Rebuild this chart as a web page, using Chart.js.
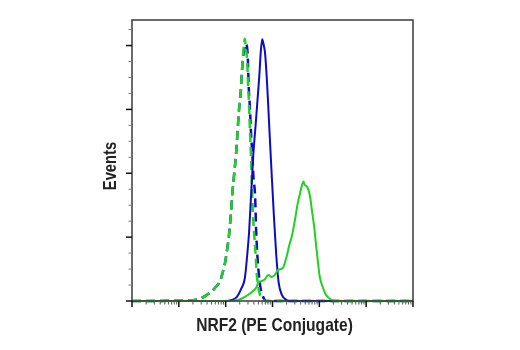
<!DOCTYPE html>
<html>
<head>
<meta charset="utf-8">
<script src="https://cdn.jsdelivr.net/npm/chart.js@4.4.0/dist/chart.umd.min.js"></script>
<style>
  html, body { margin: 0; padding: 0; background: #fff; }
</style>
</head>
<body>
<canvas id="chart" width="520" height="350"></canvas>
<script>
// --- DATA (x = log10 fluorescence, decades; y = events) ---
const xDecades = [0, 1, 2, 3, 4, 5, 6];
const yMajor = [0, 25, 50, 75, 100];
const yMinor = [6.25, 12.5, 18.75, 31.25, 37.5, 43.75, 56.25, 62.5, 68.75, 81.25, 87.5, 93.75, 106.25];

const isoBlueX = [0, 1.24, 1.39, 1.49, 1.60, 1.71, 1.77, 1.88, 1.94, 1.99, 2.03, 2.07, 2.11, 2.14, 2.18, 2.22, 2.25, 2.28, 2.32, 2.35, 2.38, 2.41, 2.43, 2.47, 2.49, 2.52, 2.54, 2.57, 2.59, 2.63, 2.65, 2.68, 2.71, 2.74, 2.78, 2.82, 2.86, 6];
const isoBlueY = [0, 0.2, 0.6, 1.2, 2.4, 3.9, 5.1, 7.8, 11.4, 15.3, 20.0, 25.5, 33.7, 41.6, 49.4, 57.2, 65.1, 73.7, 81.5, 90.6, 96.5, 99.8, 100.7, 96.4, 84.7, 74.9, 66.2, 57.2, 49.4, 40.4, 27.8, 16.9, 10.2, 5.5, 2.7, 0.8, 0, 0];

const isoGreenX = [0, 1.24, 1.39, 1.49, 1.60, 1.71, 1.77, 1.88, 1.94, 1.99, 2.03, 2.07, 2.11, 2.14, 2.18, 2.22, 2.25, 2.28, 2.32, 2.35, 2.38, 2.41, 2.43, 2.46, 2.48, 2.50, 2.52, 2.54, 2.56, 2.58, 2.61, 2.64, 2.66, 2.69, 2.73, 2.78, 2.84, 6];
const isoGreenY = [0, 0.2, 0.6, 1.2, 2.4, 3.9, 5.1, 7.8, 11.4, 15.3, 20.0, 25.5, 33.7, 41.6, 49.4, 57.2, 65.1, 73.7, 81.5, 90.6, 98.4, 102.7, 99.2, 93.7, 84.3, 76.4, 65.9, 57.2, 45.5, 34.9, 25.9, 18.0, 11.4, 6.3, 2.7, 0.8, 0, 0];

const ctrlBlueX = [0, 1.99, 2.13, 2.24, 2.34, 2.41, 2.46, 2.50, 2.53, 2.57, 2.59, 2.64, 2.68, 2.72, 2.75, 2.78, 2.81, 2.84, 2.88, 2.91, 2.95, 2.99, 3.03, 3.08, 3.13, 3.20, 3.30, 3.37, 6];
const ctrlBlueY = [0, 0, 0.4, 1.6, 5.1, 9.0, 18.0, 27.0, 37.2, 50.6, 57.2, 69.0, 78.8, 88.6, 97.6, 102.5, 100.4, 97.2, 86.6, 76.0, 61.2, 47.0, 33.3, 18.0, 7.4, 2.4, 0.4, 0, 0];

const nrf2X = [0, 2.09, 2.27, 2.41, 2.56, 2.66, 2.70, 2.77, 2.84, 2.91, 2.98, 3.05, 3.12, 3.22, 3.27, 3.32, 3.36, 3.41, 3.48, 3.54, 3.59, 3.63, 3.66, 3.69, 3.74, 3.80, 3.84, 3.89, 3.93, 3.97, 4.01, 4.08, 4.14, 4.23, 4.33, 6];
const nrf2Y = [0, 0, 0.4, 1.6, 3.5, 5.5, 7.4, 7.8, 8.6, 10.2, 9.4, 10.2, 12.2, 12.9, 15.3, 18.8, 22.0, 25.1, 31.8, 38.4, 42.3, 45.5, 46.8, 45.5, 44.7, 41.2, 35.7, 29.0, 22.0, 15.3, 9.4, 5.1, 2.4, 0.8, 0, 0];

const xTitle = 'NRF2 (PE Conjugate)';
const yTitle = 'Events';

const GREEN = '#1fd21f';
const BLUE = '#0c0cc8';
const FONT = '"Liberation Sans", Arial, sans-serif';

const toPoints = (xs, ys) => xs.map((x, i) => ({ x: x, y: ys[i] }));

// frame, tick marks and axis titles
const framePlugin = {
    id: 'frame',
    afterDraw(chart) {
        const { ctx, chartArea: a, scales: { x, y } } = chart;
        ctx.save();
        ctx.strokeStyle = '#3a3a3a';
        ctx.lineWidth = 1.5;
        ctx.strokeRect(a.left, a.top, a.right - a.left, a.bottom - a.top);

        const tick = (x1, y1, x2, y2, color, w) => {
            ctx.strokeStyle = color;
            ctx.lineWidth = w;
            ctx.beginPath();
            ctx.moveTo(x1, y1);
            ctx.lineTo(x2, y2);
            ctx.stroke();
        };
        // x: decades + log minors
        xDecades.forEach(d => {
            const px = x.getPixelForValue(d);
            tick(px, a.bottom, px, a.bottom + 6, '#111', 1.5);
            if (d < xDecades[xDecades.length - 1]) {
                for (let k = 2; k <= 9; k++) {
                    const mx = x.getPixelForValue(d + Math.log10(k));
                    tick(mx, a.bottom, mx, a.bottom + 3.5, '#555', 1);
                }
            }
        });
        // y ticks
        yMajor.forEach(v => {
            const py = y.getPixelForValue(v);
            tick(a.left - 6, py, a.left, py, '#111', 1.5);
        });
        yMinor.forEach(v => {
            const py = y.getPixelForValue(v);
            tick(a.left - 3.5, py, a.left, py, '#777', 1);
        });

        // titles: condensed bold look via horizontal squeeze
        ctx.fillStyle = '#222';
        ctx.textAlign = 'center';
        ctx.textBaseline = 'alphabetic';
        ctx.save();
        ctx.font = 'bold 19px ' + FONT;
        ctx.translate((a.left + a.right) / 2 + 2, 331);
        ctx.scale(0.82, 1);
        ctx.fillText(xTitle, 0, 0);
        ctx.restore();

        ctx.font = 'bold 18px ' + FONT;
        ctx.translate(116, 166);
        ctx.rotate(-Math.PI / 2);
        ctx.scale(0.82, 1);
        ctx.fillText(yTitle, 0, 0);
        ctx.restore();
    }
};

const lineStyle = { pointRadius: 0, fill: false, cubicInterpolationMode: 'monotone', clip: false };

new Chart(document.getElementById('chart'), {
    type: 'line',
    data: {
        datasets: [
            { ...lineStyle, label: 'NRF2', data: toPoints(nrf2X, nrf2Y), borderColor: GREEN, borderWidth: 2, order: 0 },
            { ...lineStyle, label: 'Control', data: toPoints(ctrlBlueX, ctrlBlueY), borderColor: BLUE, borderWidth: 2, order: 1 },
            { ...lineStyle, label: 'Isotype (green)', data: toPoints(isoGreenX, isoGreenY), borderColor: GREEN, borderWidth: 2.5, borderDash: [9, 5], order: 2 },
            { ...lineStyle, label: 'Isotype (blue)', data: toPoints(isoBlueX, isoBlueY), borderColor: BLUE, borderWidth: 2.5, borderDash: [9, 5], order: 3 }
        ]
    },
    options: {
        responsive: false,
        animation: false,
        layout: { padding: { left: 99, top: 20, right: 107, bottom: 14 } },
        plugins: { legend: { display: false }, tooltip: { enabled: false } },
        scales: {
            x: {
                type: 'linear', min: 0, max: 6,
                grid: { display: false }, border: { display: false }, ticks: { display: false },
                afterFit: s => { s.height = 35; }
            },
            y: {
                min: 0, max: 110,
                grid: { display: false }, border: { display: false }, ticks: { display: false },
                afterFit: s => { s.width = 33; }
            }
        }
    },
    plugins: [framePlugin]
});
</script>
</body>
</html>
